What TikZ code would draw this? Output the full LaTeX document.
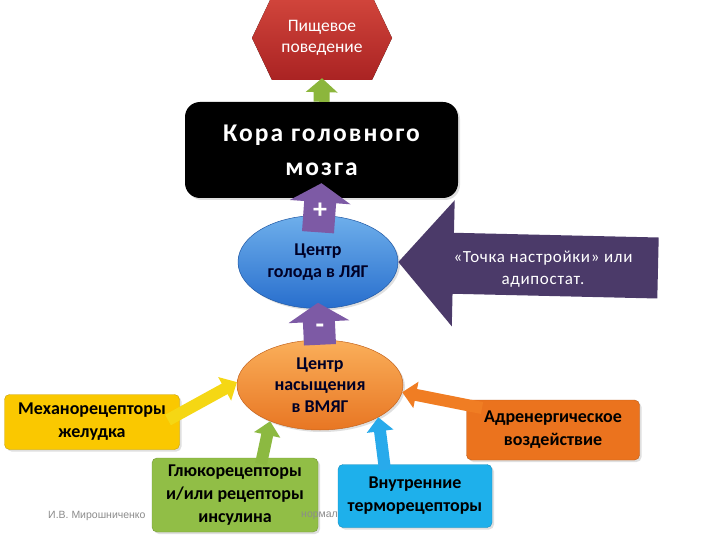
\documentclass[tikz,border=0pt]{standalone}
\usepackage{fontspec}
\setmainfont{Carlito}
\newfontfamily\spaced[LetterSpace=8]{Carlito}
\newfontfamily\spacedsm[LetterSpace=4]{Carlito}
\newfontfamily\footfont{Liberation Sans}
\usetikzlibrary{arrows.meta,shadows,shapes.geometric,calc}
\definecolor{hexred}{RGB}{170,35,35}
\definecolor{hexredl}{RGB}{210,70,60}
\definecolor{arrgreen}{RGB}{140,182,60}
\definecolor{lpurple}{RGB}{125,90,165}
\definecolor{dpurple}{RGB}{75,58,105}
\definecolor{bluel}{RGB}{110,175,235}
\definecolor{blued}{RGB}{40,110,205}
\definecolor{orangel}{RGB}{250,175,90}
\definecolor{oranged}{RGB}{232,118,35}
\definecolor{yelbox}{RGB}{250,200,0}
\definecolor{yelarr}{RGB}{245,215,20}
\definecolor{grnbox}{RGB}{145,190,70}
\definecolor{grnarr}{RGB}{140,185,65}
\definecolor{blubox}{RGB}{30,176,235}
\definecolor{bluarr}{RGB}{40,170,235}
\definecolor{orgbox}{RGB}{235,115,30}
\definecolor{orgarr}{RGB}{240,125,35}
\tikzset{
  rbox/.style={rounded corners=5pt, align=center, inner sep=2pt, font=\fontsize{18}{23}\selectfont\bfseries,
     drop shadow={opacity=0.25, shadow xshift=2pt, shadow yshift=-2pt}},
  ell/.style={ellipse, align=center, text=black!85!blue, inner sep=0pt, font=\fontsize{18}{21.5}\selectfont\bfseries,
     line width=0.5pt, drop shadow={opacity=0.25, shadow xshift=2pt, shadow yshift=-2pt}},
  smallarrow/.style={line width=12pt, -{Triangle[length=14pt,width=26pt]}},
  purparrow/.style={line width=32pt, draw=lpurple, -{Triangle[length=19pt,width=60pt]}},
  sign/.style={text=white, font=\fontsize{28}{28}\selectfont\bfseries},
  foot/.style={anchor=west, text=black!45, font=\footfont\fontsize{10.5}{12}\selectfont, inner sep=0pt},
}
\begin{document}
\begin{tikzpicture}[x=1pt,y=-1pt]
\useasboundingbox (0,0) rectangle (720,540);
\clip (0,0) rectangle (720,540);
\fill[white] (0,0) rectangle (720,540);

% hexagon
\fill[top color=hexredl, bottom color=hexred] (272,-4) -- (372,-4) -- (392,38) -- (372,80) -- (272,80) -- (252,38) -- cycle;
\node[text=white, font=\fontsize{17.5}{21}\selectfont, align=center, minimum width=140pt, minimum height=84pt, inner sep=0pt] (hex) at (322,38) {Пищевое\\поведение};

% cortex
\node[fill=black, rounded corners=15pt, minimum width=273pt, minimum height=96pt, text=white,
      font=\spaced\fontsize{25.5}{34}\selectfont\bfseries, align=center,
      drop shadow={opacity=0.25, shadow xshift=2pt, shadow yshift=-2pt}] (cortex) at (321.5,150) {Кора головного\\мозга};

% hunger ellipse
\node[ell, minimum width=160pt, minimum height=93pt, top color=bluel, bottom color=blued, draw=blued!80!black] (hunger) at (318,262) {Центр\\голода в ЛЯГ};

% satiety ellipse
\node[ell, minimum width=166pt, minimum height=90pt, top color=orangel, bottom color=oranged, draw=oranged!85!black] (sat) at (320,385) {Центр\\насыщения\\в ВМЯГ};

% set point arrow
\coordinate (sptail) at (658,268);
\draw[line width=61pt, draw=dpurple, -{Triangle[length=55pt,width=123pt]}] (sptail) -- (hunger.east);
\node[text=white, align=center, font=\spacedsm\fontsize{17}{22}\selectfont] (sp) at (543,269) {«Точка настройки» или\\адипостат.};

% boxes
\node[rbox, fill=yelbox, draw=yelbox!80!black, minimum width=175pt, minimum height=55pt] (mech) at (92,422) {Механорецепторы\\желудка};
\node[rbox, fill=grnbox, draw=grnbox!80!black, minimum width=166pt, minimum height=74pt] (gluc) at (235,495) {Глюкорецепторы\\и/или рецепторы\\инсулина};
\node[rbox, fill=orgbox, draw=orgbox!80!black, minimum width=173pt, minimum height=60pt] (adr) at (553,430) {Адренергическое\\воздействие};

% footer
\node[foot] (foot1) at (48,516) {И.В. Мирошниченко};
\node[foot] (foot2) at (301,516) {нормал};

\node[rbox, fill=blubox, draw=blubox!80!black, minimum width=154pt, minimum height=63pt] (therm) at (415,496) {Внутренние\\терморецепторы};

% arrows
\draw[line width=16pt, draw=arrgreen, -{Triangle[length=14pt,width=31pt]}] (cortex.north) -- ([yshift=2pt]hex.south);
\draw[purparrow] ([yshift=-17pt]hunger.north) -- ([yshift=15pt]cortex.south);
\node[sign] (plus) at (320,211) {+};
\draw[purparrow] ([yshift=-5pt]sat.north) -- ([yshift=6pt]hunger.south);
\node[sign] (minus) at (320,329) {-};

\coordinate (ytail) at (168,420);
\coordinate (gtail) at (261,464);
\coordinate (btail) at (385,470);
\coordinate (otail) at (482,408);
\draw[smallarrow, draw=yelarr] (ytail) -- (sat.178);
\draw[smallarrow, draw=grnarr] (gtail) -- (sat.216);
\draw[smallarrow, draw=bluarr] (btail) -- (sat.331);
\draw[smallarrow, draw=orgarr] (otail) -- (sat.355);
\end{tikzpicture}
\end{document}
